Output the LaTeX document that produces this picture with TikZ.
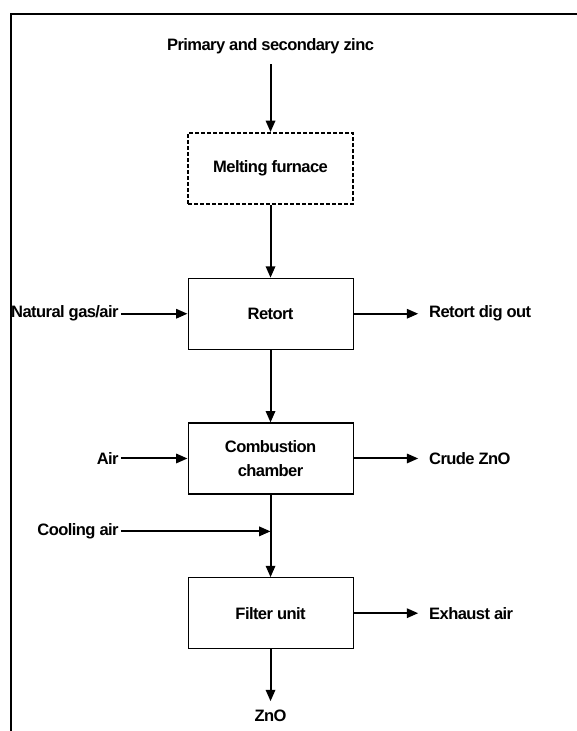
\documentclass[tikz,border=0pt]{standalone}
\usepackage{fontspec}
\newfontfamily\flowfont{Liberation Sans}[LetterSpace=-3.5]
\usepackage{tikz}
\usetikzlibrary{arrows.meta,positioning,calc}
\newcommand{\flowtext}{\flowfont\bfseries\fontsize{12.4}{18.5}\selectfont}

\begin{document}
\begin{tikzpicture}[>={Triangle[length=8.5pt,width=7pt]},node distance=55pt,
  box/.style={draw,line width=0.8pt,minimum width=123.75pt,minimum height=53.25pt,
    inner sep=0pt,align=center,font=\flowtext},
  lbl/.style={inner sep=1.5pt,font=\flowtext},
  flow/.style={->,line width=1.5pt}]
  \useasboundingbox (0,0) rectangle (432.75pt,-548.25pt);
  \draw[line width=1.8pt] (8.25pt,-548.25pt) |- (432.75pt,-10.5pt);
  \node[box,line width=1.5pt,dash pattern=on 3pt off 1.5pt] (melt) at (202.9pt,-126.4pt) {Melting furnace};
  \node[box,below=54.5pt of melt] (retort) {Retort};
  \node[box,below=54.5pt of retort] (comb) {Combustion\\chamber};
  \node[box,below=62pt of comb] (filter) {Filter unit};
  \node[lbl,above=57pt of melt] (zinc) {Primary and secondary zinc};
  \node[lbl,below=44pt of filter] (zno) {ZnO};
  \node[lbl,left=50pt of retort] (gas) {Natural gas/air};
  \node[lbl,left=50pt of comb] (air) {Air};
  \node[lbl,right=of retort] (dig) {Retort dig out};
  \node[lbl,right=of comb] (crude) {Crude ZnO};
  \node[lbl,right=of filter] (exhaust) {Exhaust air};
  \coordinate (mix) at ($(comb.south)!0.446!(filter.north)$);
  \node[lbl,anchor=east] (cool) at (mix -| gas.east) {Cooling air};
  \draw[flow,shorten <=6pt] (zinc) -- (melt);
  \draw[flow] (melt) -- (retort);
  \draw[flow] (retort) -- (comb);
  \draw[flow] (comb) -- (filter);
  \draw[flow,shorten >=5pt] (filter) -- (zno);
  \draw[flow] (gas) -- (retort);
  \draw[flow] (air) -- (comb);
  \draw[flow] (cool) -- (mix);
  \draw[flow,shorten >=6.5pt] (retort) -- (dig);
  \draw[flow,shorten >=6.5pt] (comb) -- (crude);
  \draw[flow,shorten >=6.5pt] (filter) -- (exhaust);
\end{tikzpicture}
\end{document}
